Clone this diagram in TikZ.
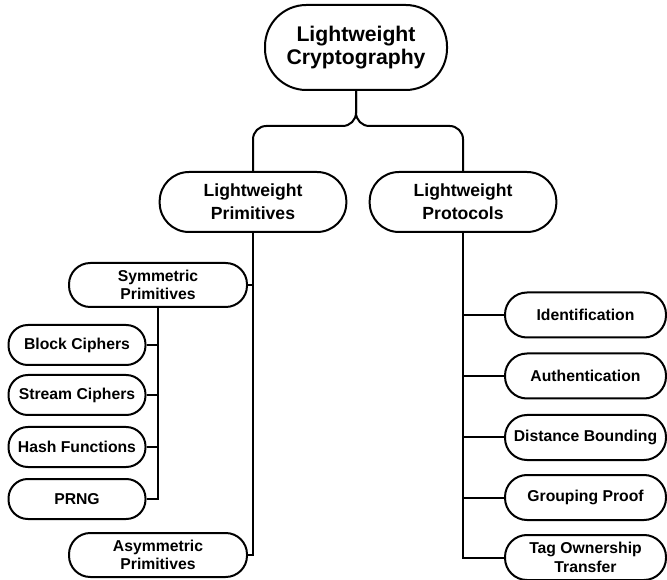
\documentclass[tikz,border=0pt]{standalone}
\usepackage{fontspec}
\setmainfont{Liberation Sans}
\usepackage{tikz}
\usetikzlibrary{positioning, calc}

\tikzset{
  tree/.style={line width=1.5pt},
  rootbox/.style={draw, line width=1.5pt, rounded corners=31pt, inner sep=0pt, align=center,
    minimum width=136.5pt, minimum height=63.75pt, font=\fontsize{15.9}{17.5}\selectfont\bfseries},
  midbox/.style={draw, line width=1.5pt, rounded corners=22pt, inner sep=0pt, align=center,
    minimum width=140pt, minimum height=45pt, font=\fontsize{13.2}{17}\selectfont\bfseries},
  subbox/.style={draw, line width=1.5pt, rounded corners=16pt, inner sep=0pt, align=center,
    minimum width=133.5pt, minimum height=33pt, font=\fontsize{11.8}{13.75}\selectfont\bfseries},
  leafbox/.style={draw, line width=1.5pt, rounded corners=14.5pt, inner sep=0pt, align=center,
    minimum width=102.75pt, minimum height=30pt, font=\fontsize{11.8}{13.75}\selectfont\bfseries},
  protbox/.style={draw, line width=1.5pt, rounded corners=16.5pt, inner sep=0pt, align=center,
    minimum width=120.75pt, minimum height=33.75pt, font=\fontsize{11.8}{13.75}\selectfont\bfseries},
}

\begin{document}
\begin{tikzpicture}[x=0.75pt, y=-0.75pt]
  \useasboundingbox (0,0) rectangle (667,580);

  \node[rootbox] (root) at (356,47.5) {Lightweight\\Cryptography};
  \node[midbox] (prim) at (253,202) {Lightweight\\Primitives};
  \node[midbox] (prot) at (463,202) {Lightweight\\Protocols};

  % primitives
  \node[subbox] (sym) at (158,285) {Symmetric\\Primitives};
  \node[subbox] (asym) at (158,555) {Asymmetric\\Primitives};
  \node[leafbox] (block) at (77,345) {Block Ciphers};
  \node[leafbox] (stream) at (77,395) {Stream Ciphers};
  \node[leafbox] (hash) at (77,447) {Hash Functions};
  \node[leafbox] (prng) at (77,499) {PRNG};

  % protocols
  \node[protbox] (ident) at (585.5,315) {Identification};
  \node[protbox] (auth) at (585.5,376) {Authentication};
  \node[protbox] (dist) at (585.5,437.5) {Distance Bounding};
  \node[protbox] (group) at (585.5,497.5) {Grouping Proof};
  \node[protbox] (tag) at (585.5,557.5) {Tag Ownership\\Transfer};

  \coordinate (split) at ($(root.south)+(0,35)$);
  \draw[tree, rounded corners=10pt] (root.south) |- (prim.north |- split) -- (prim.north);
  \draw[tree, rounded corners=10pt] (root.south) |- (prot.north |- split) -- (prot.north);

  \draw[tree] (prim.south) |- (asym.east);
  \draw[tree] (sym.east) -- (sym.east -| prim.south);
  \draw[tree] (sym.south) |- (prng.east);
  \foreach \n in {block, stream, hash}
    \draw[tree] (\n.east) -- (\n.east -| sym.south);

  \draw[tree] (prot.south) |- (tag.west);
  \foreach \n in {ident, auth, dist, group}
    \draw[tree] (\n.west) -- (\n.west -| prot.south);
\end{tikzpicture}
\end{document}
